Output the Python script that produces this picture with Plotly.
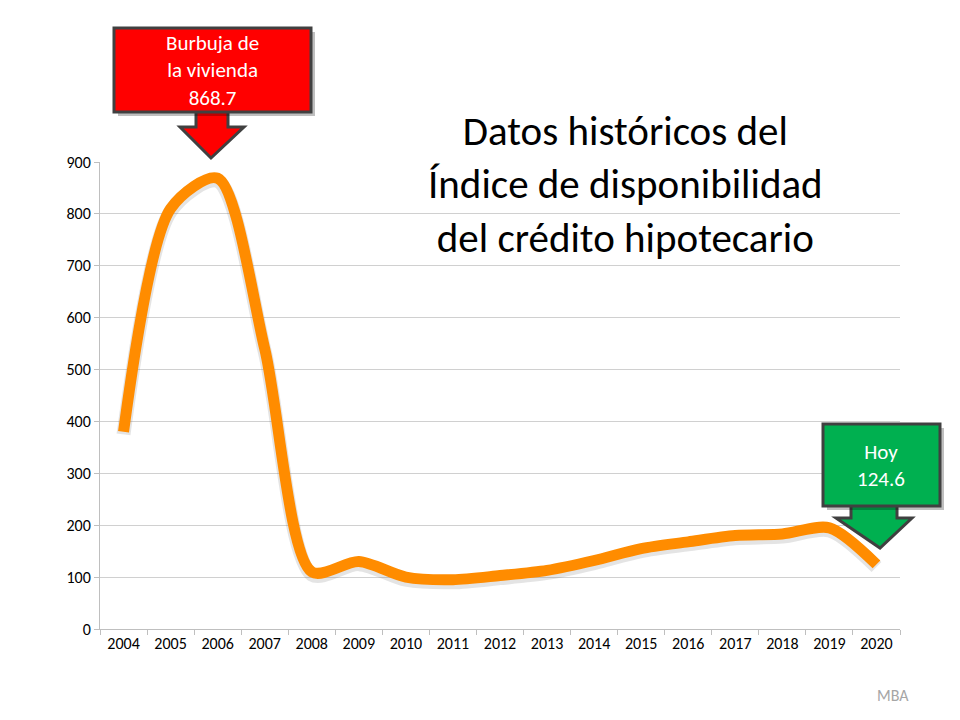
import plotly.graph_objects as go

years = ["2004","2005","2006","2007","2008","2009","2010","2011","2012","2013","2014","2015","2016","2017","2018","2019","2020"]
values = [380, 810, 868.7, 540, 110, 130, 100, 95, 103, 113, 132, 155, 168, 180, 183, 195, 124.6]
y_ticks = [0,100,200,300,400,500,600,700,800,900]

OFF = 8  # page offset
L, R, T, B = 100, 900, 162, 629
def px(x): return (x - L) / (R - L)
def py(y): return (B - y) / (B - T)

fig = go.Figure()
fig.add_trace(go.Scatter(x=years, y=[v-5 for v in values], mode="lines",
    line=dict(color="rgba(120,120,120,0.2)", width=14, shape="spline", smoothing=0.8),
    hoverinfo="skip", showlegend=False))
fig.add_trace(go.Scatter(x=years, y=values, mode="lines",
    line=dict(color="#FF8C00", width=11, shape="spline", smoothing=0.8), showlegend=False))

shapes = []
shapes.append(dict(type="rect", xref="paper", yref="paper", x0=px(347), x1=px(903), y0=py(295), y1=py(140),
                   fillcolor="white", line=dict(width=0), layer="between"))
def box(x0, y0, x1, y1, color):
    shapes.append(dict(type="rect", xref="paper", yref="paper", x0=px(x0+4), x1=px(x1+4), y0=py(y1+4), y1=py(y0+4),
                       fillcolor="rgba(0,0,0,0.25)", line=dict(width=0)))
    shapes.append(dict(type="rect", xref="paper", yref="paper", x0=px(x0), x1=px(x1), y0=py(y1), y1=py(y0),
                       fillcolor=color, line=dict(color="#404040", width=3)))
def arrow(sx0, sx1, ytop, hx0, hx1, yh, tipx, tipy, color):
    pts = [(sx0,ytop),(sx1,ytop),(sx1,yh),(hx1,yh),(tipx,tipy),(hx0,yh),(sx0,yh)]
    path = "M " + " L ".join(f"{px(a)},{py(b)}" for a,b in pts) + " Z"
    shapes.append(dict(type="path", xref="paper", yref="paper", path=path,
                       fillcolor=color, line=dict(color="#404040", width=3)))

arrow(196, 228, 110, 180, 244, 127, 211, 158, "#FF0000")
box(114, 28, 311, 112, "#FF0000")
arrow(851, 897, 504, 836, 912, 518, 880, 548, "#00B050")
box(823, 424, 940, 506, "#00B050")

ann = [
    dict(text="Burbuja de<br>la vivienda<br>868.7", x=px(212), y=py(70), font=dict(size=21, color="white")),
    dict(text="Hoy<br>124.6", x=px(881), y=py(465), font=dict(size=21, color="white")),
    dict(text="Datos históricos del<br>Índice de disponibilidad<br>del crédito hipotecario", x=px(625), y=py(184),
         font=dict(size=41, color="black")),
    dict(text="MBA", x=px(893), y=py(695), font=dict(size=16, color="#A6A6A6")),
]
for a in ann:
    a.update(xref="paper", yref="paper", showarrow=False, xanchor="center", yanchor="middle")

fig.update_layout(
    width=960, height=720, margin=dict(l=L-OFF, r=960-R+OFF, t=T-OFF, b=720-B+OFF),
    paper_bgcolor="white", plot_bgcolor="white",
    font=dict(family="Calibri, Carlito, Liberation Sans, sans-serif", color="black"),
    shapes=shapes, annotations=ann,
    xaxis=dict(type="category", tickson="boundaries", ticks="outside", ticklen=5, tickcolor="#BFBFBF",
               showline=True, linecolor="#BFBFBF", showgrid=False, tickfont=dict(size=16),
               range=[-0.5, 16.5]),
    yaxis=dict(range=[0, 900], tickvals=y_ticks, showgrid=True, gridcolor="#D0D0D0",
               showline=True, linecolor="#BFBFBF", ticks="outside", ticklen=5, tickcolor="#BFBFBF",
               tickfont=dict(size=16), zeroline=False),
)
fig.write_html("out.html")
